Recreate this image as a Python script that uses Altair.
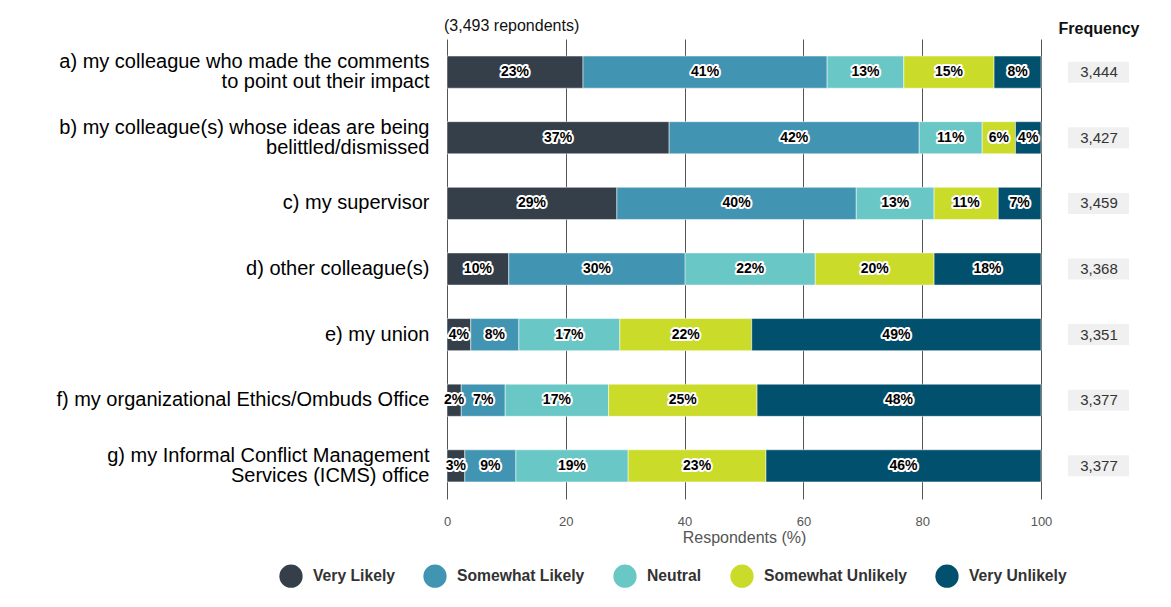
import altair as alt
import pandas as pd

questions = [
    "a) my colleague who made the comments|to point out their impact",
    "b) my colleague(s) whose ideas are being|belittled/dismissed",
    "c) my supervisor",
    "d) other colleague(s)",
    "e) my union",
    "f) my organizational Ethics/Ombuds Office",
    "g) my Informal Conflict Management|Services (ICMS) office",
]
categories = ["Very Likely", "Somewhat Likely", "Neutral", "Somewhat Unlikely", "Very Unlikely"]
colors = ["#343f4a", "#4195b3", "#69c8c6", "#cbdb29", "#01506d"]

very_likely       = [22.9, 37.4, 28.6, 10.4, 4.0, 2.4, 3.0]
somewhat_likely   = [41.1, 42.1, 40.3, 29.7, 8.1, 7.4, 8.6]
neutral           = [12.9, 10.6, 13.1, 21.9, 17.0, 17.4, 18.9]
somewhat_unlikely = [15.2, 5.6, 10.8, 20.0, 22.2, 25.0, 23.2]
very_unlikely     = [7.9, 4.3, 7.2, 18.0, 48.7, 47.8, 46.3]
frequency = ["3,444", "3,427", "3,459", "3,368", "3,351", "3,377", "3,377"]
subtitle = "(3,493 repondents)"
freq_header = "Frequency"

series = [very_likely, somewhat_likely, neutral, somewhat_unlikely, very_unlikely]
rows = []
for ci, (cat, vals) in enumerate(zip(categories, series)):
    for qi, q in enumerate(questions):
        rows.append({"question": q, "category": cat, "order": ci, "pct": vals[qi]})
df = pd.DataFrame(rows)
freq_df = pd.DataFrame({"question": questions, "freq": frequency})
head_df = pd.DataFrame({"t": [freq_header]})
sub_df = pd.DataFrame({"t": [subtitle]})

FONT = "Liberation Sans"

y_enc = alt.Y(
    "question:N",
    sort=questions,
    title=None,
    scale=alt.Scale(paddingInner=0.51, paddingOuter=0.26),
    axis=alt.Axis(
        labelExpr="split(datum.label, '|')",
        labelFontSize=20,
        labelLineHeight=20,
        labelColor="#000000",
        labelFont=FONT,
        labelPadding=18,
        labelOffset={"condition": {"test": "indexof(datum.value, '|') >= 0", "value": -10}, "value": 0},
        ticks=False,
        domain=False,
        labelLimit=600,
    ),
)

base = alt.Chart(df).transform_stack(
    stack="pct", groupby=["question"], as_=["x0", "x1"], sort=[alt.SortField("order")]
).transform_calculate(
    mid="(datum.x0 + datum.x1) / 2",
    lbl="format(datum.pct, '.0f') + '%'",
)

bars = base.mark_bar(stroke="white", strokeWidth=0.5).encode(
    x=alt.X(
        "x0:Q",
        scale=alt.Scale(domain=[0, 100], nice=False),
        title="Respondents (%)",
        axis=alt.Axis(
            values=[0, 20, 40, 60, 80, 100],
            grid=True,
            gridColor="#555555",
            gridWidth=1,
            domain=False,
            ticks=False,
            labelFlush=False,
            labelFontSize=13,
            labelColor="#555555",
            labelFont=FONT,
            labelPadding=16,
            titleFontSize=16,
            titleColor="#555555",
            titleFontWeight="normal",
            titleFont=FONT,
            titlePadding=1,
        ),
    ),
    x2="x1:Q",
    y=y_enc,
    color=alt.Color(
        "category:N",
        scale=alt.Scale(domain=categories, range=colors),
        legend=alt.Legend(
            title=None,
            orient="none",
            direction="horizontal",
            legendX=-168,
            legendY=525,
            symbolType="circle",
            symbolSize=540,
            symbolStrokeWidth=0,
            labelFontSize=15.7,
            labelFontWeight="bold",
            labelColor="#333333",
            labelFont=FONT,
            columnPadding=28,
            labelOffset=10,
        ),
    ),
)

halo = base.mark_text(
    fontSize=14, fontWeight="bold", font=FONT, color="white",
    stroke="white", strokeWidth=4, strokeJoin="round",
).encode(x="mid:Q", y=alt.Y("question:N", sort=questions), text="lbl:N")

labels = base.mark_text(
    fontSize=14, fontWeight="bold", font=FONT, color="black",
).encode(x="mid:Q", y=alt.Y("question:N", sort=questions), text="lbl:N")

freq_box = alt.Chart(freq_df).mark_bar(color="#f0f0f0", size=21).encode(
    x=alt.value(621), x2=alt.value(682), y=alt.Y("question:N", sort=questions)
)
freq_text = alt.Chart(freq_df).mark_text(fontSize=15, font=FONT, color="#333333").encode(
    x=alt.value(652), y=alt.Y("question:N", sort=questions), text="freq:N"
)
head = alt.Chart(head_df).mark_text(
    fontSize=16, font=FONT, fontWeight="bold", color="#111111"
).encode(x=alt.value(652), y=alt.value(-10), text="t:N")
sub = alt.Chart(sub_df).mark_text(
    fontSize=16, font=FONT, color="#111111", align="left"
).encode(x=alt.value(-3), y=alt.value(-13), text="t:N")

chart = alt.layer(bars, halo, labels, freq_box, freq_text, head, sub).properties(
    width=594,
    height=460,
    padding={"left": 47, "top": 10, "right": 5, "bottom": 5},
).configure_view(stroke=None)

chart.save("out.html", embed_options={"renderer": "svg", "actions": False})
